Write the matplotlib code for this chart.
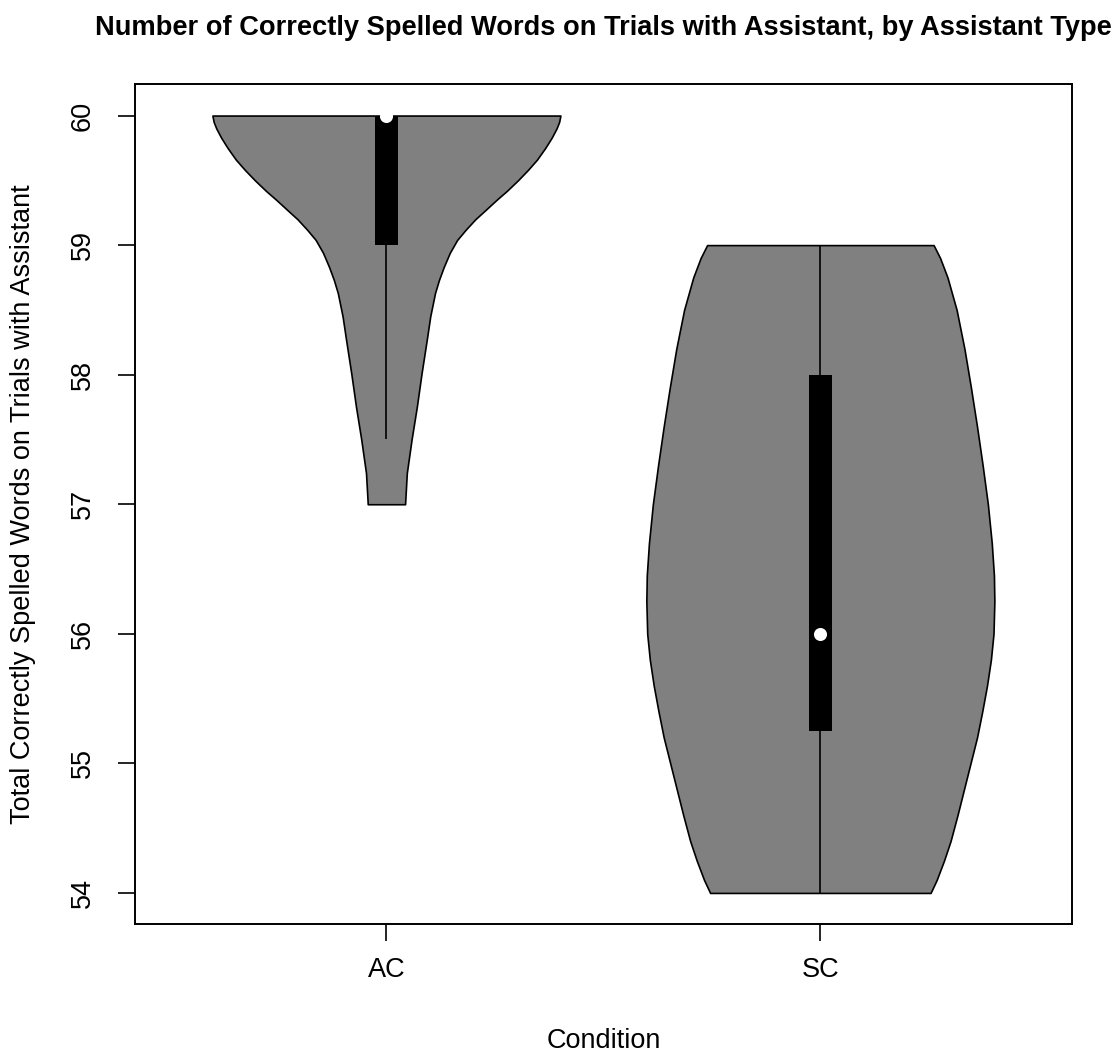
import matplotlib.pyplot as plt
from matplotlib.patches import Rectangle

plt.rcParams["font.family"] = ["Liberation Sans", "DejaVu Sans"]

conditions = ["AC", "SC"]
q1 = [59.0, 55.25]
medians = [60.0, 56.0]
q3 = [60.0, 58.0]
whisker_lo = [57.5, 54.0]
whisker_hi = [60.0, 59.0]

# density outline of each group: score level -> half width of the violin
ac_levels = [57.0, 57.24, 57.5, 57.75, 58.01, 58.27, 58.45, 58.63, 58.73, 58.83,
             58.94, 59.04, 59.12, 59.2, 59.27, 59.35, 59.42, 59.5, 59.58, 59.66,
             59.75, 59.83, 59.9, 59.95, 60.0]
ac_width = [0.043, 0.047, 0.058, 0.070, 0.081, 0.093, 0.101, 0.112, 0.121, 0.132,
            0.146, 0.163, 0.183, 0.205, 0.228, 0.254, 0.278, 0.303, 0.326, 0.347,
            0.366, 0.381, 0.392, 0.398, 0.401]
sc_levels = [54.0, 54.1, 54.25, 54.4, 54.6, 54.8, 55.0, 55.2, 55.4, 55.6,
             55.8, 56.0, 56.25, 56.45, 56.7, 57.0, 57.3, 57.6, 57.9, 58.2,
             58.5, 58.75, 58.9, 59.0]
sc_width = [0.254, 0.268, 0.285, 0.300, 0.316, 0.331, 0.346, 0.361, 0.373, 0.384,
            0.393, 0.399, 0.401, 0.400, 0.395, 0.386, 0.374, 0.361, 0.347, 0.332,
            0.314, 0.293, 0.276, 0.261]

outlines = [(ac_levels, ac_width), (sc_levels, sc_width)]
box_half = 0.0265

fig = plt.figure(figsize=(11.18, 10.57), dpi=100)
ax = fig.add_axes([0.1205, 0.1258, 0.8384, 0.7943])

for i, (levels, width) in enumerate(outlines):
    at = i + 1
    left = [at - w for w in width]
    right = [at + w for w in width]
    ax.fill_betweenx(levels, left, right, facecolor="#808080",
                     edgecolor="black", linewidth=1.2, zorder=2)
    ax.vlines(at, whisker_lo[i], whisker_hi[i], color="black", linewidth=1.2, zorder=3)
    ax.add_patch(Rectangle((at - box_half, q1[i]), 2 * box_half, q3[i] - q1[i],
                           facecolor="black", edgecolor="none", zorder=4))
    ax.plot(at, medians[i], "o", color="white", markersize=9.4,
            markeredgewidth=0, zorder=5)

ax.set_xlim(0.42, 2.58)
ax.set_ylim(53.76, 60.24)
ax.set_xticks([1, 2])
ax.set_xticklabels(conditions)
ax.set_yticks(range(54, 61))
for lbl in ax.get_yticklabels():
    lbl.set_rotation(90)
    lbl.set_va("center")

ax.tick_params(direction="out", length=12, width=1.2, labelsize=19.5, color="black")
ax.tick_params(axis="x", pad=12)
ax.tick_params(axis="y", pad=16)
for s in ax.spines.values():
    s.set_linewidth(1.4)

fig.text(0.5397, 1 - 28 / 1057, "Number of Correctly Spelled Words on Trials with Assistant, by Assistant Type",
         ha="center", va="center", fontsize=19.6, fontweight="bold")
fig.text(0.5397, 1 - 1041 / 1057, "Condition", ha="center", va="center", fontsize=19.5)
fig.text(23 / 1118, 0.523, "Total Correctly Spelled Words on Trials with Assistant",
         ha="center", va="center", rotation=90, fontsize=19.5)

fig.savefig("out.png", dpi=100)
